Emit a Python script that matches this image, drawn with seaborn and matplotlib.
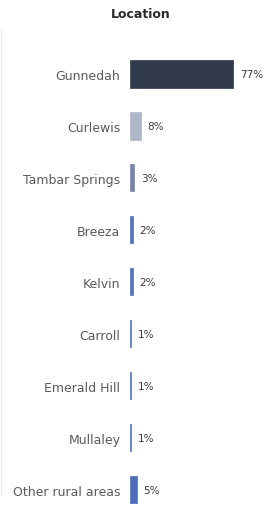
import matplotlib
matplotlib.use("Agg")
import matplotlib.pyplot as plt
import pandas as pd
import seaborn as sns

locations = ["Gunnedah", "Curlewis", "Tambar Springs", "Breeza", "Kelvin",
             "Carroll", "Emerald Hill", "Mullaley", "Other rural areas"]
shares = [77, 8, 3, 2, 2, 1, 1, 1, 5]
colors = ["#2c3a50", "#aab5cd", "#6d83b3", "#3f6fd2", "#3f6fd2",
          "#3f6fd2", "#3f6fd2", "#3f6fd2", "#3b67cb"]

df = pd.DataFrame({"Location": locations, "Share": shares})

sns.set_style("white")
plt.rcParams["font.family"] = ["DejaVu Sans"]

fig = plt.figure(figsize=(2.74, 5.06), dpi=100)
ax = fig.add_axes([130 / 274, 0, 134 / 274, 457 / 506])

sns.barplot(data=df, y="Location", x="Share", hue="Location",
            palette=colors, orient="h", width=0.52, legend=False, ax=ax)

# thin outline in the bar colour so the 1% bars stay visible
for patch in ax.patches:
    patch.set_edgecolor(patch.get_facecolor())
    patch.set_linewidth(0.5)

ax.set_xlim(0, 100)
ax.set_ylim(8.29, -0.5)
ax.set_xlabel("")
ax.set_ylabel("")
ax.set_xticks([])
ax.tick_params(axis="y", length=0, pad=7, labelsize=9, labelcolor="#5a5a5a")
sns.despine(ax=ax, left=True, bottom=True)

for cont in ax.containers:
    ax.bar_label(cont, labels=[f"{v:.0f}%" for v in cont.datavalues],
                 padding=5, fontsize=7.5, color="#3a3a3a")

fig.text(141 / 274, 1 - 14 / 506, "Location", ha="center", va="center",
         fontsize=9, fontweight="bold", color="#2b2b2b")

# faint panel edge on the left
fig.add_artist(plt.Line2D([0.002, 0.002], [0.02, 0.94], color="#ececec", lw=1))

fig.savefig("out.png", dpi=100)
